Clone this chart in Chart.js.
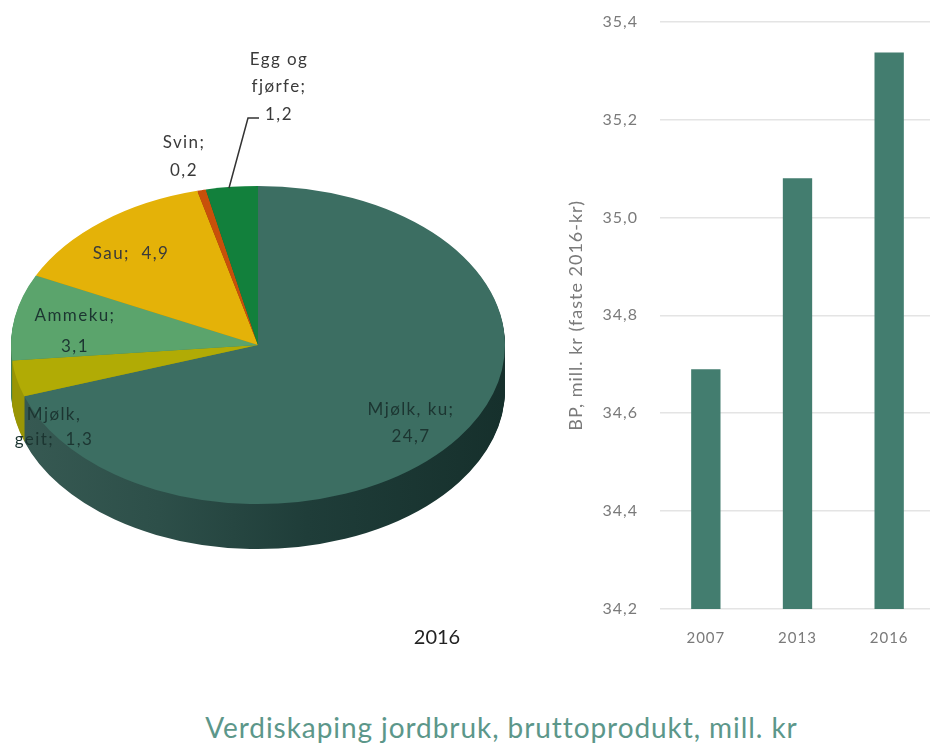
<!DOCTYPE html>
<html>
<head>
<meta charset="utf-8">
<script src="https://cdn.jsdelivr.net/npm/chart.js@4/dist/chart.umd.min.js"></script>
<style>
  html, body { margin: 0; background: #fff; overflow: hidden; width: 930px; height: 745px; }
  canvas { position: absolute; }
  #pieChart { left: 0; top: 0; }
  #barChart { left: 560px; top: -10px; }
  .title {
    position: absolute; left: 0; width: 1003px; top: 710px; text-align: center;
    font: 28px Lato, sans-serif; color: #5c978a; letter-spacing: 0.93px;
  }
  .pie-year { position: absolute; left: 387px; width: 100px; top: 624px; text-align: center; font: 20px Lato, sans-serif; color: #222; }
</style>
</head>
<body>
<canvas id="pieChart" width="530" height="640"></canvas>
<canvas id="barChart" width="375" height="670"></canvas>
<div class="pie-year">2016</div>
<div class="title">Verdiskaping jordbruk, bruttoprodukt, mill. kr</div>
<script>
// pie data, clockwise from the top
const pieCategories = ['Mjølk, ku', 'Mjølk, geit', 'Ammeku', 'Sau', 'Svin', 'Egg og fjørfe'];
const pieValues     = [24.7, 1.3, 3.1, 4.9, 0.2, 1.2];
const pieColors     = ['#3c6e62', '#b1ab05', '#5ba46c', '#e4b208', '#c8500a', '#12803c'];
const pieLabelLines = [
  ['Mjølk, ku;', '24,7'],
  ['Mjølk,', 'geit;  1,3'],
  ['Ammeku;', '3,1'],
  ['Sau;  4,9'],
  ['Svin;', '0,2'],
  ['Egg og', 'fjørfe;', '1,2']
];

// bar data
const barYears  = ['2007', '2013', '2016'];
const barValues = [34.69, 35.08, 35.337];

const FONT = 'Lato, sans-serif';
const SQUASH = 0.644;
const DEPTH = 45;
const labelAnchors = [[411, 410], [54, 415], [75, 318], [131, 254], [184, 143], [279, 60]];
const lineOffsets = [[0, 27], [0, 25], [-2, 29], [0], [0, 28], [0, 27, 55]];

const tiltedPie = {
  id: 'tiltedPie',
  beforeDatasetsDraw(chart) {
    const ctx = chart.ctx;
    const arcs = chart.getDatasetMeta(0).data;
    const cy = arcs[0].y;
    const side = ctx.createLinearGradient(11, 0, 505, 0);
    side.addColorStop(0, '#375a53');
    side.addColorStop(0.3, '#2d4f49');
    side.addColorStop(0.6, '#1f3d39');
    side.addColorStop(1, '#16302c');
    const sideColors = [side, '#9a9606', '#44805a', '#b08a06', '#8f3a08', '#0d5f2d'];
    for (let d = DEPTH; d >= 1; d--) {
      ctx.save();
      ctx.translate(0, cy + d);
      ctx.scale(1, SQUASH);
      ctx.translate(0, -cy);
      arcs.forEach((arc, i) => {
        const saved = arc.options;
        arc.options = { backgroundColor: sideColors[i], borderColor: sideColors[i], borderWidth: 0, borderAlign: 'center', borderRadius: 0, offset: 0, spacing: 0, circular: true };
        arc.draw(ctx);
        arc.options = saved;
      });
      ctx.restore();
    }
    ctx.save();
    ctx.translate(0, cy);
    ctx.scale(1, SQUASH);
    ctx.translate(0, -cy);
  },
  afterDatasetsDraw(chart) {
    const ctx = chart.ctx;
    ctx.restore();
    // leader line for Egg og fjørfe
    ctx.save();
    ctx.strokeStyle = '#333';
    ctx.lineWidth = 1.5;
    ctx.beginPath();
    ctx.moveTo(229, 188);
    ctx.lineTo(248, 118);
    ctx.lineTo(259, 118);
    ctx.stroke();
    ctx.font = '17px ' + FONT;
    ctx.letterSpacing = '1.4px';
    ctx.textAlign = 'center';
    ctx.textBaseline = 'middle';
    pieLabelLines.forEach((lines, i) => {
      ctx.fillStyle = i < 3 ? '#1c3531' : '#3a3a3a';
      lines.forEach((line, j) => {
        ctx.fillText(line, labelAnchors[i][0], labelAnchors[i][1] + lineOffsets[i][j]);
      });
    });
    ctx.restore();
  }
};

// axis text in the reference is set wide
const wideText = {
  id: 'wideText',
  beforeDraw(chart) { chart.ctx.letterSpacing = '1px'; }
};

new Chart(document.getElementById('pieChart').getContext('2d'), {
  type: 'pie',
  data: {
    labels: pieCategories,
    datasets: [{ data: pieValues, backgroundColor: pieColors, borderWidth: 0 }]
  },
  options: {
    responsive: false,
    animation: false,
    layout: { padding: { left: 11, right: 25, top: 98, bottom: 48 } },
    plugins: { legend: { display: false }, tooltip: { enabled: false } }
  },
  plugins: [tiltedPie]
});

new Chart(document.getElementById('barChart').getContext('2d'), {
  type: 'bar',
  data: {
    labels: barYears,
    datasets: [{
      data: barValues,
      backgroundColor: '#437d6f',
      categoryPercentage: 1,
      barPercentage: 0.32
    }]
  },
  options: {
    responsive: false,
    animation: false,
    layout: { padding: { top: 11 } },
    plugins: { legend: { display: false }, tooltip: { enabled: false } },
    scales: {
      x: {
        grid: { display: false },
        border: { display: false },
        afterFit(s) { s.height = 51; },
        ticks: { color: '#7a7a7a', font: { size: 15, family: FONT }, padding: 12, maxRotation: 0 }
      },
      y: {
        min: 34.2,
        max: 35.4,
        afterFit(s) { s.width = 100; },
        border: { display: false },
        grid: { color: '#e4e4e4', lineWidth: 1.5, drawTicks: false },
        title: {
          display: true,
          text: 'BP, mill. kr (faste 2016-kr)',
          color: '#7a7a7a',
          font: { size: 18, family: FONT },
          padding: { top: 5, bottom: 0 }
        },
        ticks: {
          stepSize: 0.2,
          padding: 22,
          color: '#7a7a7a',
          font: { size: 16, family: FONT },
          callback: v => v.toFixed(1).replace('.', ',')
        }
      }
    }
  },
  plugins: [wideText]
});
</script>
</body>
</html>
